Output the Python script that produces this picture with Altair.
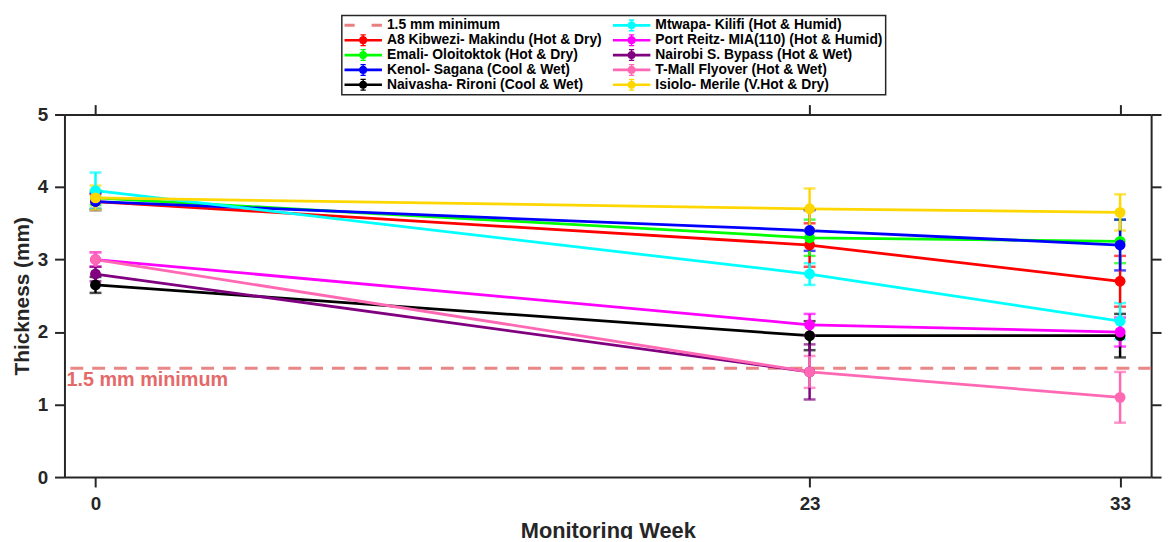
import altair as alt
import pandas as pd

# ---------------- data ----------------
series = [
    "A8 Kibwezi- Makindu (Hot & Dry)",
    "Emali- Oloitoktok (Hot & Dry)",
    "Kenol- Sagana (Cool & Wet)",
    "Naivasha- Rironi (Cool & Wet)",
    "Mtwapa- Kilifi (Hot & Humid)",
    "Port Reitz- MIA(110) (Hot & Humid)",
    "Nairobi S. Bypass (Hot & Wet)",
    "T-Mall Flyover (Hot & Wet)",
    "Isiolo- Merile (V.Hot & Dry)",
]
colors = ["#FF0000", "#00FF00", "#0000FF", "#000000", "#00FFFF",
          "#FF00FF", "#800080", "#FF69B4", "#FFD700"]
weeks = [0, 23, 33]

a8_mean = [3.80, 3.20, 2.70]
emali_mean = [3.85, 3.30, 3.25]
kenol_mean = [3.80, 3.40, 3.20]
naivasha_mean = [2.65, 1.95, 1.95]
mtwapa_mean = [3.95, 2.80, 2.15]
portreitz_mean = [3.00, 2.10, 2.00]
nairobi_mean = [2.80, 1.45, None]
tmall_mean = [3.00, 1.45, 1.10]
isiolo_mean = [3.85, 3.70, 3.65]

a8_err = [0.10, 0.30, 0.35]
emali_err = [0.10, 0.25, 0.30]
kenol_err = [0.12, 0.28, 0.35]
naivasha_err = [0.11, 0.20, 0.30]
mtwapa_err = [0.25, 0.15, 0.25]
portreitz_err = [0.10, 0.15, 0.20]
nairobi_err = [0.10, 0.38, None]
tmall_err = [0.10, 0.22, 0.35]
isiolo_err = [0.17, 0.28, 0.25]

threshold_label = "1.5 mm minimum"
threshold_value = 1.5
threshold_color = "#E88080"

x_ticks = [0, 23, 33]
y_ticks = [0, 1, 2, 3, 4, 5]

# ---------------- table ----------------
means = [a8_mean, emali_mean, kenol_mean, naivasha_mean, mtwapa_mean,
         portreitz_mean, nairobi_mean, tmall_mean, isiolo_mean]
errs = [a8_err, emali_err, kenol_err, naivasha_err, mtwapa_err,
        portreitz_err, nairobi_err, tmall_err, isiolo_err]
rows = []
for i, name in enumerate(series):
    for w, m, e in zip(weeks, means[i], errs[i]):
        if m is None:
            continue
        rows.append({"series": name, "order": i, "week": w, "value": m,
                     "lo": m - e, "hi": m + e})
df = pd.DataFrame(rows)

# legend order (Vega fills the two columns top to bottom)
legend_order = [threshold_label] + series
legend_colors = [threshold_color] + colors

marker_path = ("M-1,-0.07L-0.2,-0.07L-0.2,0.07L-1,0.07Z "
               "M0.2,-0.07L1,-0.07L1,0.07L0.2,0.07Z "
               "M0.22,0A0.22,0.22,0,1,1,-0.22,0A0.22,0.22,0,1,1,0.22,0Z "
               "M-0.04,-0.3L0.04,-0.3L0.04,0.3L-0.04,0.3Z "
               "M-0.14,-0.32L0.14,-0.32L0.14,-0.25L-0.14,-0.25Z "
               "M-0.14,0.25L0.14,0.25L0.14,0.32L-0.14,0.32Z")
dash_path = ("M-1,-0.08L-0.45,-0.08L-0.45,0.08L-1,0.08Z "
             "M0.45,-0.08L1,-0.08L1,0.08L0.45,0.08Z")
legend_shapes = [dash_path if n == threshold_label else marker_path for n in legend_order]

color_scale = alt.Scale(domain=legend_order, range=legend_colors)
xs = alt.Scale(domain=[-1, 34], nice=False, zero=False)
ys = alt.Scale(domain=[0, 5], nice=False, zero=True)

FONT = "Liberation Sans"

x_bottom = alt.Axis(values=x_ticks, title="Monitoring Week", labelFontSize=19,
                    titleFontSize=22, labelPadding=8, titlePadding=7, orient="bottom")
y_left = alt.Axis(values=y_ticks, title="Thickness (mm)", labelFontSize=19,
                  titleFontSize=21, labelPadding=7, titlePadding=5, orient="left")
x_top = alt.Axis(values=x_ticks, labels=False, title=None, orient="top")
y_right = alt.Axis(values=y_ticks, labels=False, title=None, orient="right")

base = alt.Chart(df)

thr_df = pd.DataFrame({"y": [threshold_value], "x": [-1], "label": [threshold_label]})
rule = alt.Chart(thr_df).mark_rule(color=threshold_color, strokeWidth=3,
                                    strokeDash=[13, 9], opacity=0.95).encode(
    y=alt.Y("y:Q", scale=ys, axis=None)
)
rule_text = alt.Chart(thr_df).mark_text(
    align="left", baseline="top", dx=2, dy=2, fontSize=20, fontWeight="bold",
    font=FONT, color="#E46A6A"
).encode(x=alt.X("x:Q", scale=xs, axis=None), y=alt.Y("y:Q", scale=ys, axis=None),
         text="label:N")

lines = base.mark_line(strokeWidth=2.8).encode(
    x=alt.X("week:Q", scale=xs, axis=x_bottom),
    y=alt.Y("value:Q", scale=ys, axis=y_left),
    color=alt.Color("series:N", scale=color_scale, legend=None),
    order="week:Q",
)
bars = base.mark_errorbar(ticks=True, thickness=2.5, size=12).encode(
    x=alt.X("week:Q", scale=xs, axis=None),
    y=alt.Y("lo:Q", scale=ys, axis=None),
    y2="hi:Q",
    color=alt.Color("series:N", scale=color_scale, legend=None),
)
points = base.mark_circle(size=120, opacity=1).encode(
    x=alt.X("week:Q", scale=xs, axis=x_top),
    y=alt.Y("value:Q", scale=ys, axis=y_right),
    color=alt.Color("series:N", scale=color_scale, legend=None),
)

legend = alt.Legend(
    title=None, orient="none", legendX=280, legendY=-100, columns=2,
    symbolSize=1444, symbolStrokeWidth=0, clipHeight=15, rowPadding=0,
    columnPadding=10, labelOffset=5, padding=2.5, labelLimit=400,
    labelFont=FONT, labelFontSize=14, labelFontWeight="bold", labelColor="#000000",
    strokeColor="#262626", fillColor="#FFFFFF", symbolOpacity=1,
)
legend_layer = base.transform_filter("false").mark_point(filled=True, opacity=1).encode(
    x=alt.X("week:Q", scale=xs, axis=None),
    y=alt.Y("value:Q", scale=ys, axis=None),
    color=alt.Color("series:N", scale=color_scale, legend=legend),
    shape=alt.Shape("series:N", scale=alt.Scale(domain=legend_order, range=legend_shapes),
                    legend=legend),
)

chart = alt.layer(rule, rule_text, lines, bars, points, legend_layer).resolve_axis(
    x="independent", y="independent"
).resolve_legend(
    color="independent", shape="independent"
).properties(
    width=1097, height=366,
    padding={"left": 57, "top": 105, "right": 14, "bottom": 60},
    autosize=alt.AutoSizeParams(type="none"),
).configure_view(stroke=None).configure_axis(
    grid=False, domainColor="#262626", domainWidth=2, tickColor="#262626",
    tickWidth=2, tickSize=10, labelFont=FONT, labelFontWeight="bold",
    labelColor="#262626", titleFont=FONT, titleFontWeight="bold",
    titleColor="#262626",
).configure_legend(strokeWidth=1.5)

chart.save("out.html", embed_options={"renderer": "svg", "actions": False})
